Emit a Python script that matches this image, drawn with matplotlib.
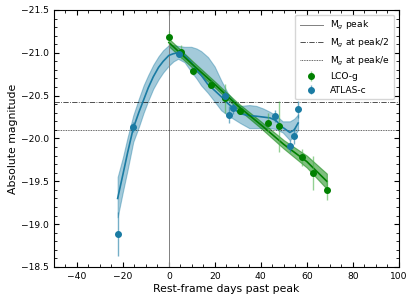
import matplotlib
matplotlib.use('Agg')
import matplotlib.pyplot as plt
from matplotlib.ticker import MultipleLocator

# LCO-g photometry (rest-frame days, abs mag, error)
lco_t = [0.0, 5.1, 10.3, 18.5, 24.3, 30.9, 42.9, 47.8, 57.7, 62.5, 68.7]
lco_m = [-21.18, -21.01, -20.79, -20.625, -20.47, -20.32, -20.185, -20.14, -19.78, -19.60, -19.40]
lco_e = [0.07, 0.08, 0.05, 0.04, 0.17, 0.04, 0.11, 0.30, 0.10, 0.20, 0.12]

# ATLAS-c photometry
atl_t = [-22.3, -15.8, 4.5, 24.3, 26.1, 27.7, 46.1, 52.6, 54.3, 56.2]
atl_m = [-18.886, -20.13, -20.99, -20.50, -20.275, -20.35, -20.26, -19.91, -20.03, -20.34]
atl_e = [0.26, 0.06, 0.04, 0.06, 0.10, 0.06, 0.07, 0.07, 0.09, 0.10]

# GP fit to ATLAS-c (mean and band edges)
gp_t = [-22.3, -20, -18, -15.5, -13, -11, -9, -6.8, -4.5, -2.5, 0, 2, 4, 6.8, 9.7, 12,
        14, 17, 19.9, 22.7, 25.6, 28.6, 31, 35, 38, 41, 44, 46.5, 49.5, 52.6, 54.5, 56.2]
gp_m = [-19.30, -19.58, -19.83, -20.12, -20.31, -20.45, -20.59, -20.72, -20.83, -20.90,
        -20.97, -20.99, -21.00, -20.97, -20.89, -20.80, -20.74, -20.63, -20.56, -20.49,
        -20.41, -20.34, -20.29, -20.265, -20.26, -20.25, -20.24, -20.21, -20.13, -20.07,
        -20.10, -20.18]
gp_hi = [-19.55, -19.78, -20.01, -20.27, -20.47, -20.62, -20.74, -20.86, -20.96, -21.03,
         -21.09, -21.09, -21.08, -21.07, -21.07, -21.05, -21.02, -20.95, -20.84, -20.68,
         -20.53, -20.43, -20.38, -20.39, -20.38, -20.35, -20.31, -20.27, -20.20, -20.20,
         -20.23, -20.28]
gp_lo = [-19.08, -19.38, -19.63, -19.96, -20.14, -20.30, -20.44, -20.58, -20.69, -20.77,
         -20.85, -20.90, -20.93, -20.89, -20.78, -20.70, -20.62, -20.53, -20.43, -20.33,
         -20.27, -20.22, -20.18, -20.12, -20.12, -20.12, -20.12, -20.11, -20.07, -19.98,
         -20.03, -20.10]

# linear fit to LCO-g
lin_t = [0, 10, 20, 30, 40, 50, 60, 68.7]
lin_m = [-21.12, -20.87, -20.63, -20.38, -20.16, -19.93, -19.73, -19.50]
lin_w = [0.045, 0.04, 0.035, 0.035, 0.04, 0.05, 0.07, 0.09]

peak_mag = -21.18
half_mag = -20.427
e_mag = -20.094

plt.rcParams['font.size'] = 6.6
c_atl = '#1a7ba3'
c_lco = 'green'

fig, ax = plt.subplots(figsize=(4.15, 3.02), dpi=100)
fig.subplots_adjust(left=0.130, right=0.961, top=0.967, bottom=0.116)

ax.axvline(0, color='grey', lw=0.7, label='M$_g$ peak')
ax.axhline(half_mag, color='k', lw=0.6, ls='-.', alpha=0.8, label='M$_g$ at peak/2')
ax.axhline(e_mag, color='k', lw=0.6, ls=(0, (1, 1)), alpha=0.8, label='M$_g$ at peak/e')

ax.fill_between(gp_t, gp_lo, gp_hi, color=c_atl, alpha=0.4, lw=0.8)
ax.plot(gp_t, gp_m, color=c_atl, lw=1.2)

lo = [m - w for m, w in zip(lin_m, lin_w)]
hi = [m + w for m, w in zip(lin_m, lin_w)]
ax.fill_between(lin_t, lo, hi, color=c_lco, alpha=0.5, lw=0.8)
ax.plot(lin_t, lin_m, color=c_lco, lw=1.2)

ax.errorbar(lco_t, lco_m, yerr=lco_e, fmt='o', color=c_lco, ms=4, elinewidth=1,
            ecolor=(0.3, 0.7, 0.3, 0.6), label='LCO-g')
ax.errorbar(atl_t, atl_m, yerr=atl_e, fmt='o', color=c_atl, ms=4, elinewidth=1,
            ecolor=(0.1, 0.48, 0.64, 0.6), label='ATLAS-c')

ax.set_xlim(-50, 100)
ax.set_ylim(-18.5, -21.5)
ax.xaxis.set_major_locator(MultipleLocator(20))
ax.xaxis.set_minor_locator(MultipleLocator(5))
ax.yaxis.set_major_locator(MultipleLocator(0.5))
ax.yaxis.set_minor_locator(MultipleLocator(0.1))
ax.tick_params(which='both', direction='in', top=True, right=True)
ax.tick_params(which='major', length=3.5)
ax.tick_params(which='minor', length=2)

ax.set_xlabel('Rest-frame days past peak', fontsize=7.8, labelpad=2)
ax.set_ylabel('Absolute magnitude', fontsize=7.8, labelpad=2)
ax.legend(loc='upper right', fontsize=6.6, handlelength=2.5, borderpad=0.5)

plt.savefig('out.png', dpi=100)
